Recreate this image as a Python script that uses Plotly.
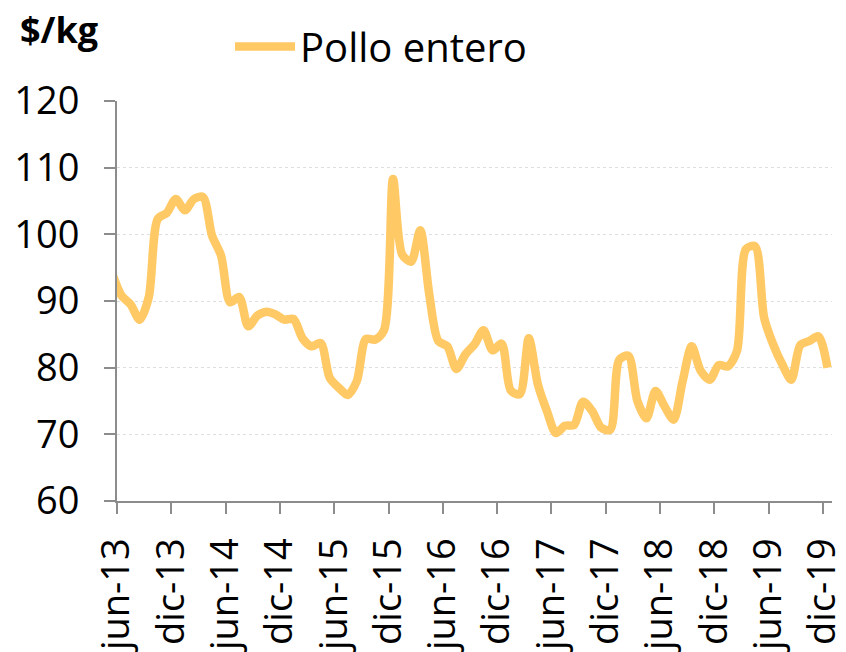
import plotly.graph_objects as go

# Monthly whole-chicken price ($/kg), may-13 .. dic-19 (points plotted mid-month)
months_from_jun13 = [i + 0.5 for i in range(-1, 79)]
precio = [
    94.0, 90.8, 89.5, 87.2, 90.5, 102.3, 103.2, 105.3, 103.6, 105.3,
    105.6, 99.8, 96.8, 89.8, 90.6, 86.2, 87.8, 88.4, 88.0, 87.2,
    87.3, 84.4, 83.2, 83.7, 78.5, 77.0, 75.9, 78.0, 84.3, 84.2,
    85.6, 108.3, 97.0, 95.9, 100.6, 91.0, 84.0, 83.2, 79.8, 82.0,
    83.5, 85.6, 82.6, 83.6, 76.6, 76.0, 84.4, 77.5, 73.5, 70.2,
    71.3, 71.4, 74.9, 73.5, 71.0, 70.7, 81.2, 81.8, 75.0, 72.4,
    76.5, 74.2, 72.2, 78.0, 83.2, 79.5, 78.2, 80.4, 80.2, 82.5,
    97.8, 98.2, 87.5, 83.5, 80.5, 78.2, 83.4, 84.0, 84.7, 80.0,
]
tick_positions = [0, 6, 12, 18, 24, 30, 36, 42, 48, 54, 60, 66, 72, 78]
tick_labels = ["jun-13", "dic-13", "jun-14", "dic-14", "jun-15", "dic-15", "jun-16",
               "dic-16", "jun-17", "dic-17", "jun-18", "dic-18", "jun-19", "dic-19"]
y_ticks = [60, 70, 80, 90, 100, 110, 120]

FONT = "Open Sans"
LINE_COLOR = "#FFC966"
AXIS_COLOR = "#8C8C8C"

L, R, T, B = 117, 14, 101, 151
PW, PH = 846 - L - R, 652 - T - B

fig = go.Figure()
fig.add_trace(go.Scatter(
    x=months_from_jun13, y=precio, mode="lines", name="Pollo entero",
    line=dict(color=LINE_COLOR, width=8.5, shape="spline", smoothing=0.8),
))

fig.update_layout(
    width=846, height=652,
    margin=dict(l=L, r=R, t=T, b=B, autoexpand=False),
    paper_bgcolor="white", plot_bgcolor="white",
    font=dict(family=FONT, color="black"),
    showlegend=True,
    legend=dict(
        orientation="h", xref="container", yref="container",
        x=230 / 846, y=1 - 14 / 652, xanchor="left", yanchor="top",
        font=dict(family=FONT, size=40, color="black"),
        itemwidth=60, bgcolor="rgba(0,0,0,0)",
    ),
    annotations=[dict(
        text="<b>$/kg</b>", xref="paper", yref="paper",
        x=(18 - L) / PW, y=1 + (T - 29) / PH,
        xanchor="left", yanchor="middle", showarrow=False,
        font=dict(family=FONT, size=36, color="black"),
    )],
)

fig.update_xaxes(
    range=[0, 79], tickmode="array", tickvals=tick_positions, ticktext=tick_labels,
    tickangle=-90, ticks="outside", ticklen=11, tickcolor=AXIS_COLOR, tickwidth=2,
    showline=True, linecolor=AXIS_COLOR, linewidth=2, showgrid=False, zeroline=False,
    tickfont=dict(family=FONT, size=38, color="black"), ticklabelstandoff=9,
    ticklabeloverflow="allow", automargin=False,
)
fig.update_yaxes(
    range=[60, 120], tickmode="array", tickvals=y_ticks,
    ticks="outside", ticklen=11, tickcolor=AXIS_COLOR, tickwidth=2,
    showline=True, linecolor=AXIS_COLOR, linewidth=2,
    showgrid=True, gridcolor="#DEDEDE", griddash="dot", gridwidth=1, zeroline=False,
    tickfont=dict(family=FONT, size=38, color="black"), ticklabelstandoff=17,
    automargin=False,
)

fig.write_html("out.html", config={"displayModeBar": False},
               post_script="document.body.style.margin='0';")
